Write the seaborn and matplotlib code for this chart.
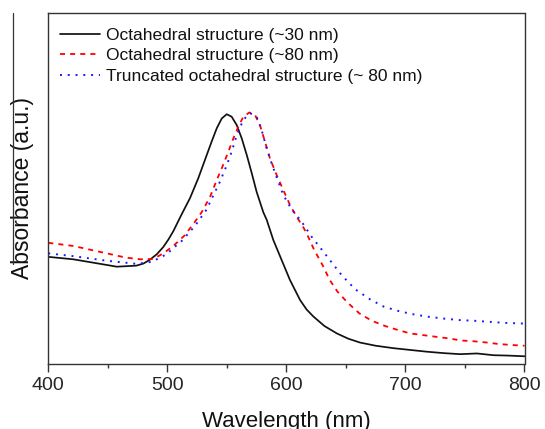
import numpy as np
import pandas as pd
import matplotlib
matplotlib.use("Agg")
import matplotlib.pyplot as plt
import seaborn as sns
from matplotlib.lines import Line2D

# ---- data ----
labels = ["Octahedral structure (~30 nm)",
          "Octahedral structure (~80 nm)",
          "Truncated octahedral structure (~ 80 nm)"]

wl_a = [400, 421, 449, 457.5, 468.7, 474, 480, 485.4, 491, 496.6, 501, 505, 512, 519, 526,
        531.6, 537.2, 541.5, 545.7, 549.9, 554, 558.3, 562.5, 566.7, 570.9, 575, 580.6,
        583.5, 589, 596, 603, 611.5, 617, 622.7, 632, 642.4, 652, 661.9, 675, 690, 704,
        718, 732, 746, 760, 774, 786, 800]
abs_a = [0.305, 0.298, 0.282, 0.277, 0.279, 0.280, 0.286, 0.297, 0.312, 0.333, 0.355, 0.378, 0.426, 0.472, 0.529,
         0.581, 0.633, 0.671, 0.699, 0.711, 0.704, 0.680, 0.642, 0.595, 0.543, 0.490, 0.432,
         0.410, 0.353, 0.296, 0.239, 0.182, 0.155, 0.135, 0.108, 0.087, 0.072, 0.061, 0.052, 0.045, 0.040,
         0.035, 0.031, 0.028, 0.030, 0.025, 0.024, 0.022]

wl_b = [400, 421, 449, 465, 477, 488.2, 496.6, 505, 514.8, 523.2, 528.8, 535.8, 541.5, 545.7,
        551.2, 555.4, 559.6, 563.8, 568.9, 573.6, 577.8, 582, 586.2, 591.8, 597.4, 603, 608.6,
        613.9, 617, 623.3, 630.6, 636.4, 642.9, 651.3, 661.3, 671.8, 683, 693.5, 704, 715.4,
        726.6, 736, 746.7, 756.5, 768.6, 778, 789.6, 800]
abs_b = [0.345, 0.336, 0.315, 0.303, 0.298, 0.299, 0.315, 0.336, 0.367, 0.405, 0.432, 0.475, 0.524, 0.557,
         0.604, 0.642, 0.675, 0.704, 0.716, 0.709, 0.680, 0.633, 0.585, 0.538, 0.495, 0.453, 0.419,
         0.391, 0.372, 0.325, 0.280, 0.239, 0.206, 0.175, 0.144, 0.123, 0.108, 0.097, 0.087, 0.082,
         0.077, 0.073, 0.067, 0.065, 0.061, 0.057, 0.054, 0.052]

wl_c = [400, 421, 449, 468.7, 474.3, 487, 494, 499.5, 505, 512, 523.2, 533, 537.2, 544.2,
        549.9, 554, 558.3, 563.8, 569.4, 575, 579.2, 583.4, 587.6, 593.2, 597.4, 604.4, 612.8,
        621.2, 631, 640.8, 646.4, 657.7, 670.3, 682, 695, 707.3, 720, 733, 745.6, 758, 770.6,
        783.8, 800]
abs_c = [0.315, 0.307, 0.294, 0.287, 0.285, 0.291, 0.303, 0.313, 0.330, 0.350, 0.393, 0.440, 0.470, 0.519,
         0.566, 0.604, 0.652, 0.695, 0.714, 0.704, 0.666, 0.614, 0.571, 0.519, 0.481, 0.440, 0.405,
         0.362, 0.320, 0.277, 0.253, 0.213, 0.184, 0.163, 0.150, 0.141, 0.134, 0.129, 0.125, 0.123, 0.120,
         0.117, 0.115]

x_ticks = [400, 500, 600, 700, 800]

# ---- plot ----
sns.set_theme(style="white")
plt.rcParams['font.family'] = ['Liberation Sans', 'DejaVu Sans']

fig = plt.figure(figsize=(5.45, 4.29), dpi=100)
ax = fig.add_axes([48.3 / 545, 1 - 364 / 429, 476.2 / 545, 351.3 / 429])

sns.lineplot(x=wl_a, y=abs_a, ax=ax, color="#111111", lw=1.25, label=labels[0],
             estimator=None, sort=False)
sns.lineplot(x=wl_b, y=abs_b, ax=ax, color="#ff0000", lw=1.3, linestyle=(0, (2.8, 2.8)),
             label=labels[1], estimator=None, sort=False)
sns.lineplot(x=wl_c, y=abs_c, ax=ax, color="#1a1aff", lw=1.4, linestyle=(0, (1, 3.0)),
             label=labels[2], estimator=None, sort=False)

ax.set_xlim(400, 800)
ax.set_ylim(0, 1)
ax.set_xticks(x_ticks)
ax.set_xticks([450, 550, 650, 750], minor=True)
ax.set_yticks([])
ax.tick_params(axis='x', which='major', direction='out', length=6, width=1,
               color="#333333", labelsize=14, pad=3.5, bottom=True)
ax.tick_params(axis='x', which='minor', direction='out', length=3, width=1,
               color="#333333", bottom=True)
for s in ax.spines.values():
    s.set_visible(True)
    s.set_color("#333333")
    s.set_linewidth(1.0)

ax.set_xlabel("Wavelength (nm)", fontsize=16, labelpad=12, color="#111111")
ax.set_ylabel("Absorbance (a.u.)", fontsize=16.5, labelpad=10, color="#111111")

leg = ax.legend(loc="upper left", bbox_to_anchor=(0.024, 0.958), frameon=False,
                fontsize=12.5, handlelength=2.3, handletextpad=0.35, labelspacing=0.33,
                borderpad=0, borderaxespad=0)
for t in leg.get_texts():
    t.set_color("#111111")

# thin vertical line at far left, as in the reference
fig.add_artist(Line2D([12.5 / 545, 12.5 / 545], [1 - 12.7 / 429, 1 - 264 / 429],
                      transform=fig.transFigure, color="#333333", lw=0.9))

fig.savefig("out.png", dpi=100)
